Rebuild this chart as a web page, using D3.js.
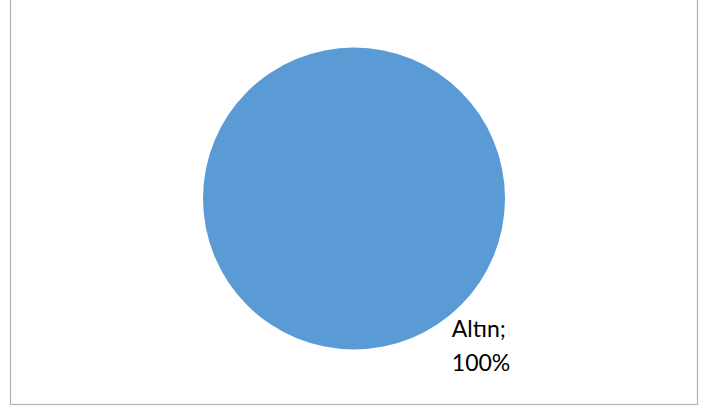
<!DOCTYPE html>
<html>
<head>
<meta charset="utf-8">
<script src="https://cdn.jsdelivr.net/npm/d3@7"></script>
<style>
  html, body { margin: 0; padding: 0; background: #fff; }
  svg { display: block; }
</style>
</head>
<body>
<div id="chart"></div>
<script>
// veriler
var categories = ["Altın"];
var values = [100];

var width = 705, height = 410;
var cx = 354, cy = 198.5, radius = 151;

var svg = d3.select("#chart")
  .append("svg")
  .attr("width", width)
  .attr("height", height);

// çerçeve (üst kenar kadrajın dışında)
svg.append("rect")
  .attr("x", 10.5)
  .attr("y", -10.5)
  .attr("width", 687)
  .attr("height", 415)
  .attr("fill", "none")
  .attr("stroke", "#b3b3b3")
  .attr("stroke-width", 1.2);

var total = d3.sum(values);
var pie = d3.pie().sort(null).value(function(d) { return d; });
var arcs = pie(values);

var arc = d3.arc().innerRadius(0).outerRadius(radius);

var g = svg.append("g").attr("transform", "translate(" + cx + "," + cy + ")");

g.selectAll("path")
  .data(arcs)
  .join("path")
  .attr("d", arc)
  .attr("fill", "#5b9bd5");

// etiket: dilimin sağ alt kenarına yakın (en uygun yer)
var labelAngle = 2.556;
var labelR = radius * 1.1;
var label = g.selectAll("text.lbl")
  .data(arcs)
  .join("text")
  .attr("class", "lbl")
  .attr("font-family", "Lato, 'Open Sans', sans-serif")
  .attr("font-size", 23)
  .attr("fill", "#000")
  .attr("transform", function() {
    var x = Math.sin(labelAngle) * labelR + 6;
    var y = -Math.cos(labelAngle) * labelR;
    return "translate(" + x + "," + y + ")";
  });

label.append("tspan")
  .attr("x", 0)
  .attr("dy", 0)
  .text(function(d, i) { return categories[i] + ";"; });
label.append("tspan")
  .attr("x", 0)
  .attr("dy", 34)
  .text(function(d) { return Math.round(d.value / total * 100) + "%"; });
</script>
</body>
</html>
